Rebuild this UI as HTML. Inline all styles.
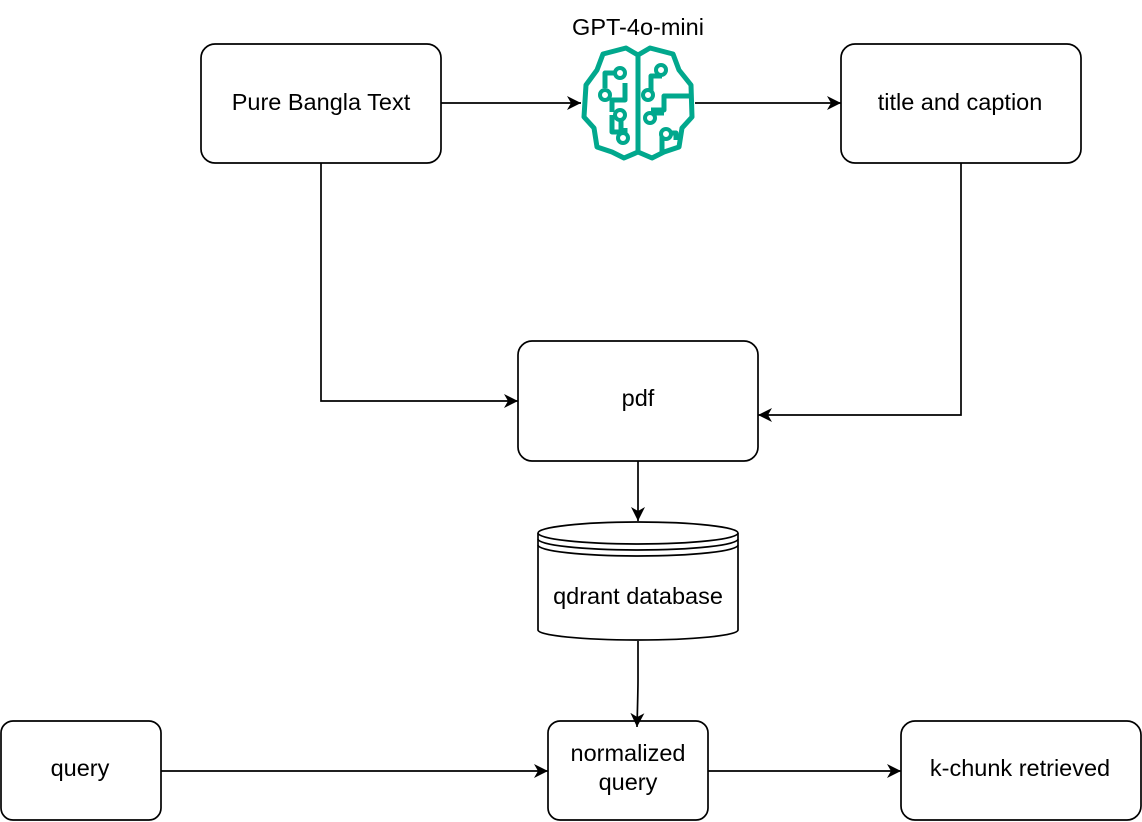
<!DOCTYPE html>
<html><head><style>body{margin:0;background:#fff}svg{display:block}text{font-family:"Liberation Sans",Arial,sans-serif;font-size:23.5px;fill:#000}</style></head><body>
<svg width="1142" height="822" viewBox="0 0 1142 822" xmlns="http://www.w3.org/2000/svg">
<defs><marker id="a" markerWidth="16" markerHeight="16" refX="14" refY="7" orient="auto" markerUnits="userSpaceOnUse"><path d="M0,0 L14,7 L0,14 L4,7 z" fill="#000"/></marker></defs>
<g fill="none" stroke="#000" stroke-width="1.7">
<rect x="201" y="44" width="240" height="119" rx="14"/>
<rect x="841" y="44" width="240" height="119" rx="14"/>
<rect x="518" y="341" width="240" height="120" rx="14"/>
<rect x="1" y="721" width="160" height="99" rx="12"/>
<rect x="548" y="721" width="160" height="99" rx="12"/>
<rect x="901" y="721" width="240" height="99" rx="14"/>
<path d="M538,533 L538,630 A100,10 0 0 0 738,630 L738,533"/>
<ellipse cx="638" cy="533" rx="100" ry="11" fill="#fff"/>
<path d="M538,539 A100,11 0 0 0 738,539 M538,545 A100,11 0 0 0 738,545"/>
<path d="M441,103 H581" marker-end="url(#a)"/>
<path d="M695,103 H841" marker-end="url(#a)"/>
<path d="M321,163 V401 H518" marker-end="url(#a)"/>
<path d="M961,163 V415 H758" marker-end="url(#a)"/>
<path d="M638,461 V521" marker-end="url(#a)"/>
<path d="M638,641 V680 Q638,690 637,727" marker-end="url(#a)"/>
<path d="M161,771 H548" marker-end="url(#a)"/>
<path d="M708,771 H901" marker-end="url(#a)"/>
</g>
<g fill="none" stroke="#01A88D" stroke-width="5" stroke-linejoin="round">
<path d="M638,55 L626,48 L603,54 L597,70 L586,85 L584,117 L594,128 L597,147 L612,152 L624,158 L638,152 Z"/>
<path d="M638,55 L650,48 L673,54 L679,70 L691,85 L692,117 L682,128 L679,147 L664,152 L652,158 L638,152 Z"/>
<path d="M616,73 H605 V88 M612,112 V100 H625 V83 M621,118 V132 H612 V115 M625,128 V137"/>
<path d="M651,92 V76 H662 M651,110 H664 V96 H692 M676,140 V133 H662 V152 M651,113 H664"/>
</g>
<g fill="#fff" stroke="#01A88D" stroke-width="4">
<circle cx="620" cy="73" r="5"/><circle cx="605" cy="95" r="5"/><circle cx="620" cy="115" r="5"/><circle cx="623" cy="138" r="5"/>
<circle cx="661" cy="70" r="5"/><circle cx="648" cy="95" r="5"/><circle cx="650" cy="118" r="5"/><circle cx="666" cy="134" r="5"/>
</g>
<g text-anchor="middle">
<text x="638" y="35">GPT-4o-mini</text>
<text x="321" y="110">Pure Bangla Text</text>
<text x="960" y="110">title and caption</text>
<text x="638" y="406">pdf</text>
<text x="638" y="604">qdrant database</text>
<text x="80" y="776">query</text>
<text x="628" y="761">normalized</text>
<text x="628" y="790">query</text>
<text x="1020" y="776">k-chunk retrieved</text>
</g>
</svg>
</body></html>
